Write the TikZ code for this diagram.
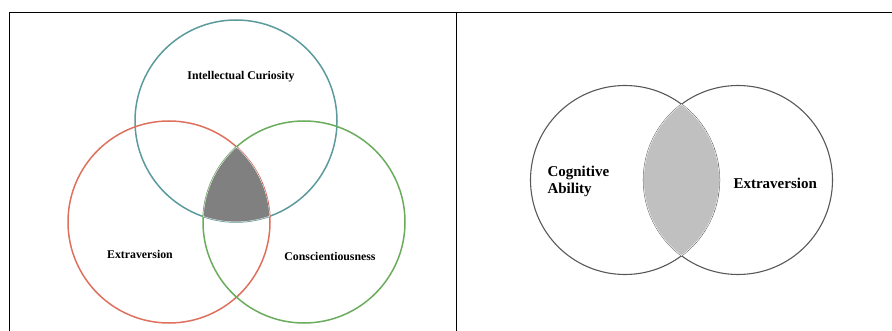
\documentclass[tikz,border=0pt]{standalone}
\usepackage{fontspec}
\setmainfont{Liberation Serif}
\definecolor{tealring}{RGB}{92,154,156}
\definecolor{redring}{RGB}{222,112,94}
\definecolor{greenring}{RGB}{106,172,92}
\definecolor{darkshade}{RGB}{128,128,128}
\definecolor{lightshade}{RGB}{192,192,192}
\definecolor{greyring}{RGB}{88,88,88}
\begin{document}
\begin{tikzpicture}
[x=1pt,y=-1pt,
 ring/.style={line width=1.5pt},
 thinring/.style={line width=1.1pt,draw=greyring},
 vennlabel/.style={font=\bfseries\fontsize{11.8}{13}\selectfont},
 biglabel/.style={font=\bfseries\fontsize{15}{17}\selectfont,align=left}]
\useasboundingbox (0,0) rectangle (892,331);
%% table rules
\draw[line width=0.9pt] (9.5,12) -- (892,12);
\draw[line width=0.9pt] (9.5,12) -- (9.5,331);
\draw[line width=0.9pt] (456.5,12) -- (456.5,331);
%% three traits
\coordinate (curiosity) at (236,121);
\coordinate (extra) at (169,222);
\coordinate (consc) at (304,222);
\foreach \c/\col in {curiosity/tealring, extra/redring, consc/greenring}
{
  \draw[ring,\col] (\c) circle[radius=101pt];
}
\begin{scope}
  \clip (curiosity) circle[radius=101pt];
  \clip (extra) circle[radius=101pt];
  \clip (consc) circle[radius=101pt];
  \fill[darkshade] (consc) circle[radius=101pt];
  \foreach \c in {curiosity, extra, consc}
    \draw[white,line width=0.7pt] (\c) circle[radius=101pt];
\end{scope}
\node[vennlabel] (curiositylabel) at (241,77) {Intellectual Curiosity};
\node[vennlabel] (extralabel) at (140,254) {Extraversion};
\node[vennlabel] (consclabel) at (330,256) {Conscientiousness};
%% two traits
\coordinate (ability) at (625,180);
\coordinate (extratwo) at (738,180);
\foreach \c in {ability, extratwo}
{
  \draw[thinring] (\c) circle[radius=94.5pt];
}
\begin{scope}
  \clip (ability) circle[radius=94.5pt];
  \clip (extratwo) circle[radius=94.5pt];
  \fill[lightshade] (extratwo) circle[radius=94.5pt];
  \foreach \c in {ability, extratwo}
    \draw[white,line width=0.7pt] (\c) circle[radius=94.5pt];
\end{scope}
\node[biglabel,anchor=west] (abilitylabel) at (544,181) {Cognitive\\Ability};
\node[biglabel,anchor=west] (extratwolabel) at (730,183) {Extraversion};
\end{tikzpicture}
\end{document}
